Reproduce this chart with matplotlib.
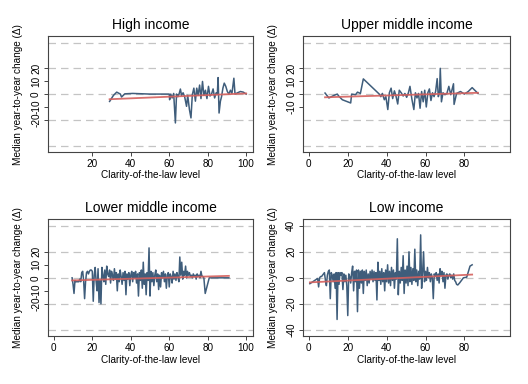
import matplotlib
matplotlib.use("Agg")
from matplotlib import pyplot as plt

plt.rcParams['font.family'] = ['Liberation Sans', 'DejaVu Sans']

BLUE = '#3f5d7b'
RED = '#d4605d'
GRID = '#c4c4c4'

# High income
hi_x = [29, 31, 32.7, 34.6, 35.2, 36.9, 41, 50, 60, 60.2, 60.8, 61.5, 62.3, 63.2, 63.8,
        64.5, 65.2, 65.8, 66.4, 67.2, 68, 69, 69.6, 70.5, 71.3, 72, 72.8, 73.6, 74.3,
        75, 75.8, 76.5, 77.3, 78, 78.8, 79.6, 80.4, 81.2, 82, 82.8, 83.6, 84.4, 85,
        85.4, 85.9, 86.6, 87.2, 87.9, 88.6, 89.4, 90.2, 91, 91.8, 92.6, 93.6, 94.2,
        95.5, 97, 98.5, 100]
hi_y = [-5.7, -1, 1.5, 0, -2.3, 0.2, 0.5, 0, 0, -4.4, 0, -3, 0.5, -22.4, 0, -2,
        0.5, 3.9, -1, 1, -2, -9.5, -1, -12, -18.5, -0.5, 4.6, -5.5, 4.6, -1, 7, -3.5,
        9.8, -1, 3, -3.5, 6, -1.5, 0, 4, -3, 1, 0, 12.8, -14.7, -5.5, -2, 4.6, 8.5,
        6, 2, 0, 3, 0.5, 12.3, 0, 1, 2, 1.5, 0]
hi_fit_x = [29, 100]
hi_fit_y = [-4, 0.5]

# Upper middle income
um_x = [8.3, 10.3, 12.9, 14.6, 15.5, 17.2, 21.5, 22, 24, 25, 26.5, 28, 36.2, 37,
        37.8, 38.8, 39.6, 40.6, 41.4, 42.3, 43.1, 44, 44.8, 45.7, 46.5, 47.5, 48.5,
        49.4, 50.3, 51.2, 52, 53, 54, 54.8, 55.6, 56.4, 57.2, 58, 58.8, 59.6, 60.4,
        61.2, 62, 62.8, 63.6, 64.4, 65.2, 66, 66.6, 67.2, 67.6, 68.2, 69, 70, 71,
        72, 73, 74.4, 74.7, 76, 78, 80, 82, 84, 87]
um_y = [0.8, -3, -1, 0, -1.8, -4.4, -6.9, 0, -0.5, 1.5, 0.5, 11.8, 0, -2, 0.5,
        -4.4, -2, -12, 1, 4.6, -3.5, 2.5, -1.5, -7.7, 3, 1, -1.5, 0.5, -2.5, 1, 6,
        -4, -12, 1, -3, 0.5, -11, 2, -6, 3, -10, 1, 4, -5, 1, -2, 2, 12, -2, 1, 20,
        -6, 1, -0.5, 0.5, 6, -0.5, 8, -8, 0.5, 2, 0, 2, 5, 0.5]
um_fit_x = [8.3, 87]
um_fit_y = [-2.5, 1]

# Lower middle income
lm_x = [9.5, 10, 10.5, 11, 11.5, 12, 13, 13.5, 14, 14.5, 15, 15.5, 16, 16.5, 17,
        17.5, 18, 18.5, 19, 19.5, 20, 20.5, 21, 21.5, 22, 22.5, 23, 23.5, 24, 24.5,
        25, 25.5, 26, 26.5, 27, 27.5, 28, 28.5, 29, 29.5, 30, 30.5, 31, 31.5, 32,
        32.5, 33, 33.5, 34, 34.5, 35, 35.5, 36, 36.5, 37, 37.5, 38, 38.5, 39, 39.5,
        40, 40.5, 41, 41.5, 42, 42.5, 43, 43.5, 44, 44.5, 45, 45.5, 46, 46.5, 47,
        47.5, 48, 48.5, 49, 49.5, 50, 50.5, 51, 51.5, 52, 52.5, 53, 53.5, 54, 54.5,
        55, 55.5, 56, 56.5, 57, 57.5, 58, 58.5, 59, 59.5, 60, 60.5, 61, 61.5, 62,
        62.5, 63, 63.5, 64, 64.5, 65, 65.5, 66, 66.5, 67, 67.5, 68, 68.5, 69, 69.5,
        70, 70.5, 71, 71.5, 72, 72.5, 73, 73.5, 74, 74.5, 75, 75.5, 76, 76.5, 77,
        77.5, 78, 78.7, 80.8, 91]
lm_y = [0, -5, -12, -2, -3, -3, -3, -1, -3, 4, 5, -2, -16, -3, 4, 5, 3, 5, 6, 6,
        5, -18, 2, 8, -3, -10, 7, -19, -2, -20, 8, 2, -3, 6, -5, 9, 3, 1, 6, -4, 5,
        2, -2, 7, -1, 4, -10, 3, -3, 6, 1, -5, 4, -2, 5, -13, 3, -1, 4, -6, 2, 5,
        -3, 4, 0, 5, -4, 3, -14, 4, -2, 6, -8, 12, -5, 3, -13, 4, -2, 23, -14, 5,
        -3, 4, -6, 2, 6, -3, 3, -9, 2, -7, 4, 0, 5, -3, 3, -8, 2, 4, -7, 3, 1, -4,
        5, -1, 3, -2, 4, 1, -3, 16, 2, 12, -1, 5, 2, 9, 0, 5, 2, 4, 1, 2, 0, 3, 1,
        2, -1, 3, 1, 2, 0, 5, 1, 1, 0, -12, 0, 0]
lm_fit_x = [9.5, 91]
lm_fit_y = [-2, 1.5]

# Low income
lo_x = [0.5, 1, 1.5, 2, 2.5, 3, 3.5, 4, 4.5, 5, 5.5, 6, 6.5, 7, 7.5, 8, 8.5, 9,
        9.5, 10, 10.5, 11, 11.5, 12, 12.5, 13, 13.5, 14, 14.5, 15, 15.5, 16, 16.5,
        17, 17.5, 18, 18.5, 19, 19.5, 20, 20.5, 21, 21.5, 22, 22.5, 23, 23.5, 24,
        24.5, 25, 25.5, 26, 26.5, 27, 27.5, 28, 28.5, 29, 29.5, 30, 30.5, 31, 31.5,
        32, 32.5, 33, 33.5, 34, 34.5, 35, 35.5, 36, 36.5, 37, 37.5, 38, 38.5, 39,
        39.5, 40, 40.5, 41, 41.5, 42, 42.5, 43, 43.5, 44, 44.5, 45, 45.5, 46, 46.5,
        47, 47.5, 48, 48.5, 49, 49.5, 50, 50.5, 51, 51.5, 52, 52.5, 53, 53.5, 54,
        54.5, 55, 55.5, 56, 56.5, 57, 57.5, 58, 58.5, 59, 59.5, 60, 60.5, 61, 61.5,
        62, 62.5, 63, 63.5, 64, 64.5, 65, 65.5, 66, 66.5, 67, 67.5, 68, 68.5, 69,
        69.5, 70, 70.5, 71, 71.5, 72, 72.5, 73, 73.5, 74, 74.5, 75, 75.5, 76, 76.6,
        77.5, 78.5, 79.5, 81.2, 82.9, 84]
lo_y = [-4.5, -4, -3.5, -3, -2.5, -2, -1.5, -1, -0.5, -7, 0, 1, 1, 2, 3, 4, -2,
        -6, 2, 5, 6, -16, 4, 2, -3, 3, -8, 4, -32, 4, -5, 4, 2, 4, -9, 3, -3, 2, -6,
        -29, 3, 1, -4, 4, 9, -10, 5, -3, 6, -26, 6, -8, 5, -4, 6, -12, 5, -2, 6, -6,
        3, -4, 5, -1, 6, -3, 5, -2, 4, -17, 12, -2, 5, -5, 7, -3, 4, -10, 6, -3, 10,
        -4, 5, -6, 8, -2, 6, -8, 4, -1, 30, -13, 5, -4, 8, -2, 17, -12, 6, -4, 9,
        -6, 20, -3, 8, -5, 7, -2, 22, -3, 6, -6, 5, -1, 33, -8, 4, 20, -3, 5, -2, 8,
        0, 4, -3, 3, 0, -16, 3, 1, 4, -2, 3, -4, 7, 2, 5, -3, 4, -8, 2, 3, -1, 2, 3,
        0, 2, -1, 3, -2, -3, -5, -5.5, -4, -2, 0, 0.5, 9, 10]
lo_fit_x = [0.5, 84]
lo_fit_y = [-3.5, 2.5]

panels = [
    ('High income', hi_x, hi_y, hi_fit_x, hi_fit_y, [20, 40, 60, 80, 100], [-20, -10, 0, 10, 20]),
    ('Upper middle income', um_x, um_y, um_fit_x, um_fit_y, [0, 20, 40, 60, 80], [-10, 0, 10, 20]),
    ('Lower middle income', lm_x, lm_y, lm_fit_x, lm_fit_y, [0, 20, 40, 60, 80, 100], [-20, -10, 0, 10, 20]),
    ('Low income', lo_x, lo_y, lo_fit_x, lo_fit_y, [0, 20, 40, 60, 80], [-40, -20, 0, 20, 40]),
]
grid_vals = [-40, -20, 0, 20, 40]

positions = [
    [0.091, 0.604, 0.388, 0.302],
    [0.574, 0.604, 0.392, 0.302],
    [0.091, 0.124, 0.388, 0.305],
    [0.574, 0.124, 0.392, 0.305],
]

fig = plt.figure(figsize=(5.28, 3.84), dpi=100)
for pos, (title, x, y, fx, fy, xt, yt) in zip(positions, panels):
    ax = fig.add_axes(pos)
    for g in grid_vals:
        ax.axhline(g, color=GRID, lw=0.9, dashes=(6, 4), zorder=0)
    ax.plot(x, y, color=BLUE, lw=1.1, zorder=2)
    ax.plot(fx, fy, color=RED, lw=1.3, alpha=0.9, zorder=3)
    ax.set_xlim(-3, 103.5)
    ax.set_ylim(-45, 45)
    ax.set_xticks(xt)
    ax.set_yticks(yt)
    ax.set_yticklabels([str(v) for v in yt], rotation=90, va='center')
    ax.tick_params(labelsize=7.2, length=3, width=0.7, color='#444444', pad=2)
    for s in ax.spines.values():
        s.set_color('#444444')
        s.set_linewidth(0.8)
    ax.set_title(title, fontsize=10, pad=5)
    ax.set_xlabel('Clarity-of-the-law level', fontsize=7.2, labelpad=1)
    ax.set_ylabel('Median year-to-year change (\u0394)', fontsize=7.2, labelpad=6)

fig.savefig('out.png', dpi=100)
